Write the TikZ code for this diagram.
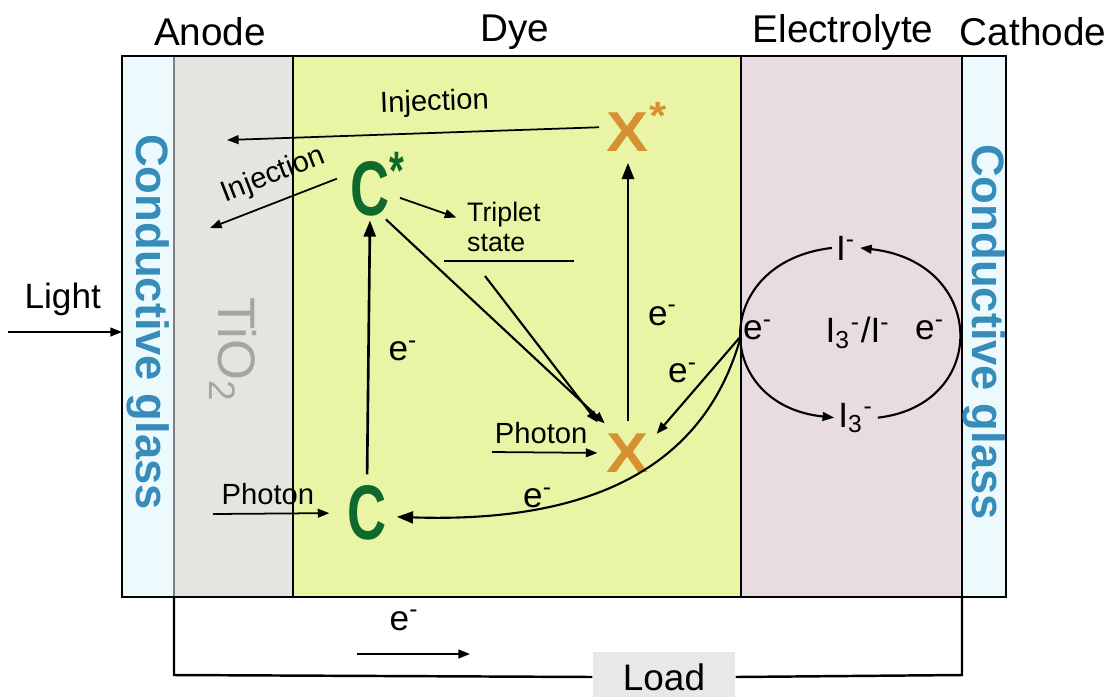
\documentclass[tikz,border=0pt]{standalone}
\usepackage{fontspec}
\setmainfont{Liberation Sans}
\usetikzlibrary{arrows.meta}

\definecolor{glassfill}{RGB}{236,250,254}
\definecolor{tiofill}{RGB}{229,229,224}
\definecolor{dyefill}{RGB}{233,245,165}
\definecolor{elecfill}{RGB}{233,219,226}
\definecolor{loadfill}{RGB}{232,232,232}
\definecolor{glassblue}{RGB}{55,140,185}
\definecolor{cgreen}{RGB}{15,105,45}
\definecolor{xorange}{RGB}{215,145,50}
\definecolor{tiogray}{RGB}{165,165,165}

\begin{document}
\begin{tikzpicture}[x=0.01cm, y=-0.01cm,
  head/.style={font=\fontsize{11}{13}\selectfont},
  lbl/.style={font=\fontsize{10}{12}\selectfont},
  small/.style={font=\fontsize{8.3}{10}\selectfont},
  glass/.style={font=\bfseries\fontsize{12.9}{15}\selectfont, text=glassblue, rotate=-90},
  dyeC/.style={font=\bfseries\fontsize{22}{26}\selectfont, text=cgreen, inner sep=0pt, xscale=0.7},
  dyeX/.style={font=\bfseries\fontsize{16}{18}\selectfont, text=xorange, inner sep=0pt, xscale=1.12},
  arrbig/.style={-{Triangle[length=4.6pt,width=3.4pt]}, line width=0.75pt},
  arr/.style={-{Triangle[length=3.3pt,width=2.5pt]}, line width=0.5pt},
]
\useasboundingbox (0,0) rectangle (1117,696);

% Couches de la cellule
\fill[glassfill] (122,56) rectangle (174,597);
\fill[tiofill] (174,56) rectangle (293,597);
\fill[dyefill] (293,56) rectangle (741,597);
\fill[elecfill] (741,56) rectangle (962,597);
\fill[glassfill] (962,56) rectangle (1006,597);
\draw[gray, line width=0.6pt] (174,56) -- (174,597);
\draw[line width=0.7pt] (293,56) -- (293,597);
\draw[line width=0.7pt] (741,56) -- (741,597);
\draw[line width=0.7pt] (962,56) -- (962,597);
\draw[line width=0.8pt] (122,56) rectangle (1006,597);

% Titres
\node[head] (anode) at (210,32) {Anode};
\node[head] (dye) at (515,32) {Dye};
\node[head] (elec) at (843,32) {Electrolyte};
\node[head] (cath) at (1033,32) {Cathode};

\node[glass] (glassL) at (148,322) {Conductive glass};
\node[glass] (glassR) at (984,332) {Conductive glass};
\node[rotate=-90, text=tiogray, font=\fontsize{15}{17}\selectfont] (tio) at (233,350) {TiO\textsubscript{2}};

% Circuit externe
\node[fill=loadfill, minimum width=1.42cm, minimum height=0.5cm, font=\fontsize{10.5}{12}\selectfont] (load) at (664,677) {Load};
\draw[line width=0.7pt] (174,597) -- (174,675) -- (load.west);
\draw[line width=0.7pt] (load.east) -- (962,675) -- (962,597);
\coordinate (eL) at (357,654);
\coordinate (eR) at (470,654);
\draw[arr] (eL) -- (eR) node[pos=0.42, above=3pt, lbl] {e\textsuperscript{-}};

% Lumiere
\coordinate (lt1) at (8,332);
\coordinate (lt2) at (122,332);
\draw[arr] (lt1) -- (lt2) node[pos=0.48, above=1pt, lbl] {Light};

% Colorants
\node[dyeC] (cs) at (370,184) {C\rlap{\textsuperscript{*}}};
\node[dyeC] (c) at (367,513) {C};
\node[dyeX] (xs) at (628,127) {X\rlap{\textsuperscript{*}}};
\node[dyeX] (x) at (628,453) {X};
\node[small, align=left, anchor=west, inner sep=1pt, font=\fontsize{7.6}{8.6}\selectfont] (trip) at (463,227) {Triplet\\state};

% Niveau triplet
\coordinate (tl1) at (444,261);
\coordinate (tl2) at (574,261);
\coordinate (tl3) at (485,276);
\draw[line width=0.6pt] (tl1) -- (tl2);

% Injection
\coordinate (inj1) at (227,140);
\coordinate (inj2) at (210,228);
\draw[arr, shorten <=2pt] (xs.west) -- (inj1) node[pos=0.45, above=1pt, sloped, small] {Injection};
\draw[arr, shorten <=4pt] (cs.160) -- (inj2) node[pos=0.48, above=0pt, sloped, small] {Injection};

% Transitions
\draw[arrbig, shorten <=3pt, shorten >=1pt] (c.north) -- (cs.south) node[midway, right=2pt, lbl] {e\textsuperscript{-}};
\draw[arrbig, shorten <=3.4pt, shorten >=3pt] (x.north) -- (xs.south) node[pos=0.42, right=2pt, lbl] {e\textsuperscript{-}};
\draw[arr, shorten <=3pt, shorten >=2pt] (cs.-20) -- (trip.170);
\draw[arr, line width=0.6pt, shorten <=1pt, shorten >=4pt] (cs.-60) -- (x.120);
\draw[arr, line width=0.6pt, shorten >=4pt] (tl3) -- (x.135);

% Photons
\coordinate (ph1) at (213,514);
\coordinate (ph2) at (492,452);
\draw[arr, shorten >=5pt] (ph1) -- (c.west) node[pos=0.41, above=-1pt, small] {Photon};
\draw[arr, shorten >=2.5pt] (ph2) -- (x.west) node[pos=0.43, above=-1pt, small] {Photon};

% Regeneration
\coordinate (junc) at (741,336);
\draw[arr, line width=0.6pt, shorten >=3pt] (junc) -- (x.30);
\node[lbl] (ex) at (683,373) {e\textsuperscript{-}};
\draw[arrbig, line width=0.6pt, shorten >=2.8pt] (junc) .. controls (715,430) and (640,525) .. ([yshift=-1pt]c.east);
\node[lbl] (ec) at (538,498) {e\textsuperscript{-}};

% Couple redox
\node[lbl, anchor=base, inner sep=1pt] (im) at (846,260) {I\textsuperscript{-}};
\node[lbl, anchor=base, inner sep=1pt] (ith) at (856,427) {I\textsubscript{3}\textsuperscript{-}};
\node[lbl] (redox) at (858,333) {I\textsubscript{3}\textsuperscript{-}/I\textsuperscript{-}};
\node[lbl] (eA) at (758,330) {e\textsuperscript{-}};
\node[lbl] (eB) at (930,330) {e\textsuperscript{-}};
\draw[arr, line width=0.6pt] (im.west) .. controls (710,262) and (712,405) .. (ith.west);
\draw[arr, line width=0.6pt] (ith.east) .. controls (990,405) and (988,262) .. (im.east);

\end{tikzpicture}
\end{document}
